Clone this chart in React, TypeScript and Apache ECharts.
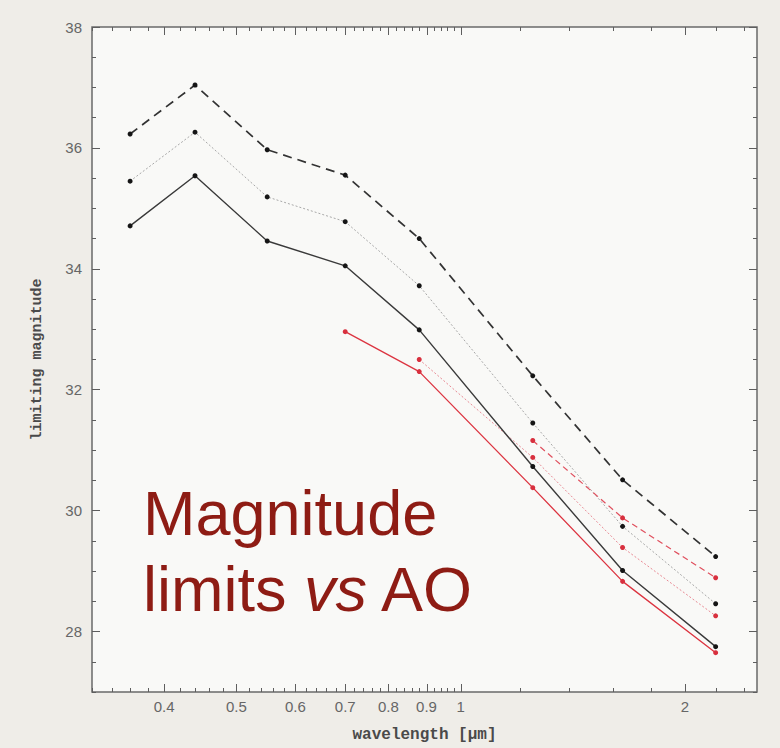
import React, { useEffect, useRef } from 'react';
import * as echarts from 'echarts';

// wavelengths of the photometric bands (µm)
const wavelengths = [0.36, 0.44, 0.55, 0.7, 0.88, 1.25, 1.65, 2.2];

// black curves
const blackDashed = [36.23, 37.04, 35.97, 35.55, 34.5, 32.23, 30.51, 29.24];
const blackDotted = [35.45, 36.26, 35.19, 34.78, 33.72, 31.45, 29.74, 28.46];
const blackSolid = [34.71, 35.54, 34.46, 34.05, 32.99, 30.73, 29.01, 27.75];

// red curves (null = no point)
const redSolid = [null, null, null, 32.96, 32.3, 30.38, 28.83, 27.65];
const redDotted = [null, null, null, null, 32.5, 30.88, 29.39, 28.26];
const redDashed = [null, null, null, null, null, 31.16, 29.88, 28.89];

// axis ticks
const majorXTicks = [0.4, 0.5, 0.6, 0.7, 0.8, 0.9, 1, 2];
const minorXTicks = [
  0.32, 0.34, 0.36, 0.38, 0.42, 0.44, 0.46, 0.48, 0.52, 0.54, 0.56, 0.58,
  0.62, 0.64, 0.66, 0.68, 0.72, 0.74, 0.76, 0.78, 0.82, 0.84, 0.86, 0.88,
  0.92, 0.94, 0.96, 0.98, 1.2, 1.4, 1.6, 1.8, 2.2, 2.4,
];
const majorYTicks = [28, 30, 32, 34, 36, 38];
const minorYTicks = [
  27, 27.5, 28.5, 29, 29.5, 30.5, 31, 31.5, 32.5, 33, 33.5, 34.5, 35, 35.5,
  36.5, 37, 37.5,
];

const X_MIN = 0.32;
const X_MAX = 2.5;
const Y_MIN = 27;
const Y_MAX = 38;

const TICK_COLOR = '#5e5e5e';
const GRID = { left: 92, right: 23, top: 27, bottom: 56 };
const MONO = 'Liberation Mono, DejaVu Sans Mono, monospace';
const SANS = 'Liberation Sans, Arial, Helvetica, sans-serif';
const TITLE_COLOR = '#8e1c14';

function toData(vals: (number | null)[]) {
  const out: [number, number][] = [];
  wavelengths.forEach((w, i) => {
    const v = vals[i];
    if (v != null) out.push([w, v]);
  });
  return out;
}

function xAxis(grid: number, labels: boolean, name?: string) {
  return {
    type: 'log',
    logBase: 10,
    gridIndex: grid,
    position: 'bottom',
    min: X_MIN,
    max: X_MAX,
    name: name || '',
    nameLocation: 'middle',
    nameGap: 35,
    nameTextStyle: { fontFamily: MONO, fontSize: 16, color: '#4a4a4a', fontWeight: 'bold' },
    axisLine: { show: false, onZero: false },
    splitLine: { show: false },
    minorSplitLine: { show: false },
    axisTick: { show: false },
    axisLabel: labels
      ? {
          show: true,
          customValues: majorXTicks,
          interval: 0,
          margin: 7,
          fontSize: 15,
          fontFamily: SANS,
          color: '#666',
          formatter: (v: number) => String(Math.round(v * 10) / 10),
        }
      : { show: false },
  };
}

function yAxis(grid: number, pos: string, ticks: number[], len: number, labels: boolean, name?: string) {
  return {
    type: 'value',
    gridIndex: grid,
    position: pos,
    min: Y_MIN,
    max: Y_MAX,
    name: name || '',
    nameLocation: 'middle',
    nameGap: 47,
    nameRotate: 90,
    nameTextStyle: { fontFamily: MONO, fontSize: 15, color: '#4a4a4a', fontWeight: 'bold' },
    axisLine: { show: false, onZero: false },
    splitLine: { show: false },
    axisTick: {
      show: true,
      inside: true,
      length: len,
      customValues: ticks,
      lineStyle: { color: TICK_COLOR, width: 1 },
    },
    axisLabel: labels
      ? {
          show: true,
          customValues: ticks,
          margin: 10,
          fontSize: 15,
          fontFamily: SANS,
          color: '#666',
        }
      : { show: false },
  };
}

function line(name: string, vals: (number | null)[], color: string, width: number, type: any, symColor: string) {
  return {
    name,
    type: 'line',
    xAxisIndex: 0,
    yAxisIndex: 0,
    data: toData(vals),
    symbol: 'circle',
    symbolSize: 5,
    showSymbol: true,
    z: 3,
    itemStyle: { color: symColor },
    lineStyle: { color, width, type },
  };
}

const titleGraphics = [
  {
    type: 'text',
    left: 143,
    top: 481,
    z: 10,
    style: { text: 'Magnitude', fontSize: 63, fontFamily: SANS, fill: TITLE_COLOR },
  },
  {
    type: 'text',
    left: 143,
    top: 557,
    z: 10,
    style: {
      text: '{a|limits }{b|vs}{a| AO}',
      fill: TITLE_COLOR,
      rich: {
        a: { fontSize: 63, fontFamily: SANS, fill: TITLE_COLOR },
        b: { fontSize: 63, fontFamily: SANS, fontStyle: 'italic', fill: TITLE_COLOR },
      },
    },
  },
];

export default function App() {
  const ref = useRef<HTMLDivElement>(null);
  useEffect(() => {
    document.body.style.margin = '0';
    if (!ref.current) return;
    const chart = echarts.init(ref.current, null, { renderer: 'svg' });
    chart.setOption({
      animation: false,
      backgroundColor: '#efede8',
      grid: [
        {
          ...GRID,
          outerBoundsMode: 'none',
          show: true,
          backgroundColor: '#f9f9f7',
          borderColor: '#6a6a6a',
          borderWidth: 1.5,
        },
        { ...GRID, outerBoundsMode: 'none', show: false },
      ],
      xAxis: [xAxis(0, true, 'wavelength [μm]'), xAxis(1, false)],
      yAxis: [
        yAxis(0, 'left', majorYTicks, 8, true, 'limiting magnitude'),
        yAxis(0, 'right', majorYTicks, 8, false),
        yAxis(1, 'left', minorYTicks, 4, false),
        yAxis(1, 'right', minorYTicks, 4, false),
      ],
      series: [
        line('black dotted', blackDotted, '#a8a8a8', 1, [2, 2], '#151515'),
        line('red dotted', redDotted, '#e88a94', 1, [2, 2], '#d8303e'),
        line('red dashed', redDashed, '#e0505e', 1.2, [6, 4], '#d8303e'),
        line('red solid', redSolid, '#dc3440', 1.3, 'solid', '#d8303e'),
        line('black solid', blackSolid, '#3a3a3a', 1.4, 'solid', '#151515'),
        line('black dashed', blackDashed, '#333333', 1.7, [9, 6], '#151515'),
      ],
      graphic: titleGraphics,
    });

    // x tick marks on the bottom and top frame edges, positioned through the x axis scale
    const tickEls: any[] = [];
    const addTicks = (ticks: number[], len: number) => {
      ticks.forEach((w) => {
        const pb = chart.convertToPixel({ xAxisIndex: 0, yAxisIndex: 0 }, [w, Y_MIN]) as number[];
        const pt = chart.convertToPixel({ xAxisIndex: 0, yAxisIndex: 0 }, [w, Y_MAX]) as number[];
        if (!pb || !pt) return;
        const x = Math.round(pb[0]) + 0.5;
        tickEls.push({
          type: 'line',
          z: 100,
          silent: true,
          shape: { x1: x, y1: pb[1], x2: x, y2: pb[1] - len },
          style: { stroke: TICK_COLOR, lineWidth: 1 },
        });
        tickEls.push({
          type: 'line',
          z: 100,
          silent: true,
          shape: { x1: x, y1: pt[1], x2: x, y2: pt[1] + len },
          style: { stroke: TICK_COLOR, lineWidth: 1 },
        });
      });
    };
    addTicks(majorXTicks, 8);
    addTicks(minorXTicks, 4);
    chart.setOption({ graphic: [...titleGraphics, ...tickEls] }, { replaceMerge: ['graphic'] });

    return () => chart.dispose();
  }, []);
  return <div ref={ref} style={{ width: 780, height: 748 }} />;
}
